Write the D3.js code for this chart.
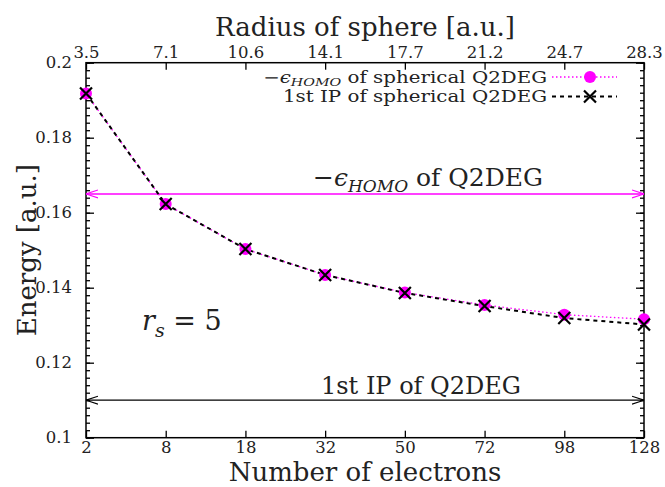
<!DOCTYPE html>
<html>
<head>
<meta charset="utf-8">
<script src="https://cdn.jsdelivr.net/npm/d3@7"></script>
<style>
  body { margin: 0; background: #fff; }
  svg { display: block; }
  svg text { font-family: 'DejaVu Serif', serif !important; fill: #222; }
  .axis path { display: none; }
  .axis line { stroke: #000; stroke-width: 1.3; }
  .axis text { font-size: 16.5px; }
</style>
</head>
<body>
<div id="chart"></div>
<script>
// data
const electrons = [2, 8, 18, 32, 50, 72, 98, 128];
const radius = ['3.5', '7.1', '10.6', '14.1', '17.7', '21.2', '24.7', '28.3'];
const homoSpherical = [0.1918, 0.1623, 0.1503, 0.1434, 0.1387, 0.1354, 0.1328, 0.1316];
const ipSpherical = [0.1918, 0.1623, 0.1503, 0.1434, 0.1386, 0.1351, 0.1319, 0.1302];
const homoQ2DEG = 0.165;
const ipQ2DEG = 0.110;
const yTicks = [0.1, 0.12, 0.14, 0.16, 0.18, 0.2];
const yMinor = d3.range(0.1, 0.2001, 0.002);

const W = 665, H = 487;
const MARGIN = { top: 62.7, right: 21, bottom: 49.3, left: 86 };
const gW = W - MARGIN.left - MARGIN.right;
const gH = H - MARGIN.top - MARGIN.bottom;

const svg = d3.select('#chart').append('svg').attr('width', W).attr('height', H);
const g = svg.append('g').attr('transform', `translate(${MARGIN.left},${MARGIN.top})`);

// SCALES
const x = d3.scalePoint().domain(electrons).range([0, gW]).padding(0);
const xTop = d3.scalePoint().domain(radius).range([0, gW]).padding(0);
const y = d3.scaleLinear().domain([0.1, 0.2]).range([gH, 0]);

// MINOR Y TICKS, LEFT AND RIGHT
g.append('g').attr('class', 'axis')
  .call(d3.axisLeft(y).tickValues(yMinor).tickSize(-4).tickFormat(''));
g.append('g').attr('class', 'axis').attr('transform', `translate(${gW},0)`)
  .call(d3.axisRight(y).tickValues(yMinor).tickSize(-4).tickFormat(''));

// MAJOR Y TICKS
g.append('g').attr('class', 'axis')
  .call(d3.axisLeft(y).tickValues(yTicks).tickSize(-8).tickPadding(14).tickFormat(d => +d.toFixed(2)));
g.append('g').attr('class', 'axis').attr('transform', `translate(${gW},0)`)
  .call(d3.axisRight(y).tickValues(yTicks).tickSize(-8).tickFormat(''));

// X AXES
g.append('g').attr('class', 'axis').attr('transform', `translate(0,${gH})`)
  .call(d3.axisBottom(x).tickSize(-7).tickPadding(4));
g.append('g').attr('class', 'axis')
  .call(d3.axisTop(xTop).tickSize(-7).tickPadding(5));

// BORDER
g.append('rect').attr('width', gW).attr('height', gH)
  .attr('fill', 'none').attr('stroke', '#000').attr('stroke-width', 1.5);

// ARROW MARKERS
const defs = svg.append('defs');
[['magArrow', '#ff00ff'], ['blkArrow', '#000']].forEach(([id, col]) => {
  defs.append('marker').attr('id', id)
    .attr('viewBox', '0 -5 12 10').attr('refX', 12).attr('refY', 0)
    .attr('markerWidth', 12).attr('markerHeight', 10).attr('markerUnits', 'userSpaceOnUse')
    .attr('orient', 'auto-start-reverse')
    .append('path').attr('d', 'M0,-4L12,0L0,4').attr('fill', 'none')
    .attr('stroke', col).attr('stroke-width', 1.2);
});

// REFERENCE LINES (Q2DEG)
g.append('line').attr('x1', 0).attr('x2', gW).attr('y1', y(homoQ2DEG)).attr('y2', y(homoQ2DEG))
  .attr('stroke', '#ff00ff').attr('stroke-width', 1.5)
  .attr('marker-start', 'url(#magArrow)').attr('marker-end', 'url(#magArrow)');
g.append('line').attr('x1', 0).attr('x2', gW).attr('y1', y(ipQ2DEG)).attr('y2', y(ipQ2DEG))
  .attr('stroke', '#000').attr('stroke-width', 1.3)
  .attr('marker-start', 'url(#blkArrow)').attr('marker-end', 'url(#blkArrow)');

const homoLab = g.append('text').attr('x', 428 - MARGIN.left).attr('y', y(homoQ2DEG) - 8)
  .attr('text-anchor', 'middle').style('font-size', '25px');
homoLab.append('tspan').text('−');
homoLab.append('tspan').style('font-style', 'italic').text('ϵ');
homoLab.append('tspan').style('font-style', 'italic').style('font-size', '17px').attr('dy', 6).text('HOMO');
homoLab.append('tspan').attr('dy', -6).text(' of Q2DEG');

g.append('text').attr('x', 421 - MARGIN.left).attr('y', y(ipQ2DEG) - 6)
  .attr('text-anchor', 'middle').style('font-size', '24px').text('1st IP of Q2DEG');

// SERIES
const lineGen = d3.line().x((d, i) => x(electrons[i])).y(d => y(d));
g.append('path').datum(homoSpherical).attr('d', lineGen)
  .attr('fill', 'none').attr('stroke', '#ff00ff').attr('stroke-width', 1.3)
  .attr('stroke-dasharray', '1.5,2.5');
g.append('path').datum(ipSpherical).attr('d', lineGen)
  .attr('fill', 'none').attr('stroke', '#000').attr('stroke-width', 2)
  .attr('stroke-dasharray', '4,4');

g.selectAll('.homo-pt').data(homoSpherical).enter().append('circle')
  .attr('class', 'homo-pt')
  .attr('cx', (d, i) => x(electrons[i])).attr('cy', d => y(d)).attr('r', 6)
  .attr('fill', '#ff00ff');

const cross = (sel, cx, cy, s) => {
  sel.append('path')
    .attr('d', `M${cx - s},${cy - s}L${cx + s},${cy + s}M${cx - s},${cy + s}L${cx + s},${cy - s}`)
    .attr('stroke', '#000').attr('stroke-width', 2.2).attr('fill', 'none');
};
ipSpherical.forEach((d, i) => cross(g, x(electrons[i]), y(d), 6));

// LEGEND
const legX = 547 - MARGIN.left;
const row1 = 77 - MARGIN.top, row2 = 96.5 - MARGIN.top;
const legStretch = 1.24;
const l1 = g.append('text').attr('transform', `translate(${legX},${row1}) scale(${legStretch},1)`)
  .attr('dy', '0.35em').attr('text-anchor', 'end').style('font-size', '16px');
l1.append('tspan').text('−');
l1.append('tspan').style('font-style', 'italic').text('ϵ');
l1.append('tspan').style('font-style', 'italic').style('font-size', '11.5px').attr('dy', 3).text('HOMO');
l1.append('tspan').attr('dy', -3).text(' of spherical Q2DEG');
g.append('text').attr('transform', `translate(${legX},${row2}) scale(${legStretch},1)`)
  .attr('dy', '0.35em').attr('text-anchor', 'end').style('font-size', '16px')
  .text('1st IP of spherical Q2DEG');

const s1 = 552 - MARGIN.left, s2 = 617 - MARGIN.left, sm = 590 - MARGIN.left;
g.append('line').attr('x1', s1).attr('x2', s2).attr('y1', row1).attr('y2', row1)
  .attr('stroke', '#ff00ff').attr('stroke-width', 1.3).attr('stroke-dasharray', '1.5,2.5');
g.append('circle').attr('cx', sm).attr('cy', row1).attr('r', 6).attr('fill', '#ff00ff');
g.append('line').attr('x1', s1).attr('x2', s2).attr('y1', row2).attr('y2', row2)
  .attr('stroke', '#000').attr('stroke-width', 2).attr('stroke-dasharray', '4,4');
cross(g, sm, row2, 6);

// r_s = 5
const rs = g.append('text').attr('x', 142 - MARGIN.left).attr('y', 330 - MARGIN.top)
  .style('font-size', '27px');
rs.append('tspan').style('font-style', 'italic').text('r');
rs.append('tspan').style('font-style', 'italic').style('font-size', '19px').attr('dy', 7).text('s');
rs.append('tspan').attr('dy', -7).text(' = 5');

// AXIS TITLES
svg.append('text').attr('x', MARGIN.left + gW / 2).attr('y', 481)
  .attr('text-anchor', 'middle').style('font-size', '26px').text('Number of electrons');
svg.append('text').attr('x', MARGIN.left + gW / 2).attr('y', 36)
  .attr('text-anchor', 'middle').style('font-size', '26px').text('Radius of sphere [a.u.]');
svg.append('text').attr('transform', `translate(36,${MARGIN.top + gH / 2}) rotate(-90)`)
  .attr('text-anchor', 'middle').style('font-size', '26px').text('Energy [a.u.]');
</script>
</body>
</html>
